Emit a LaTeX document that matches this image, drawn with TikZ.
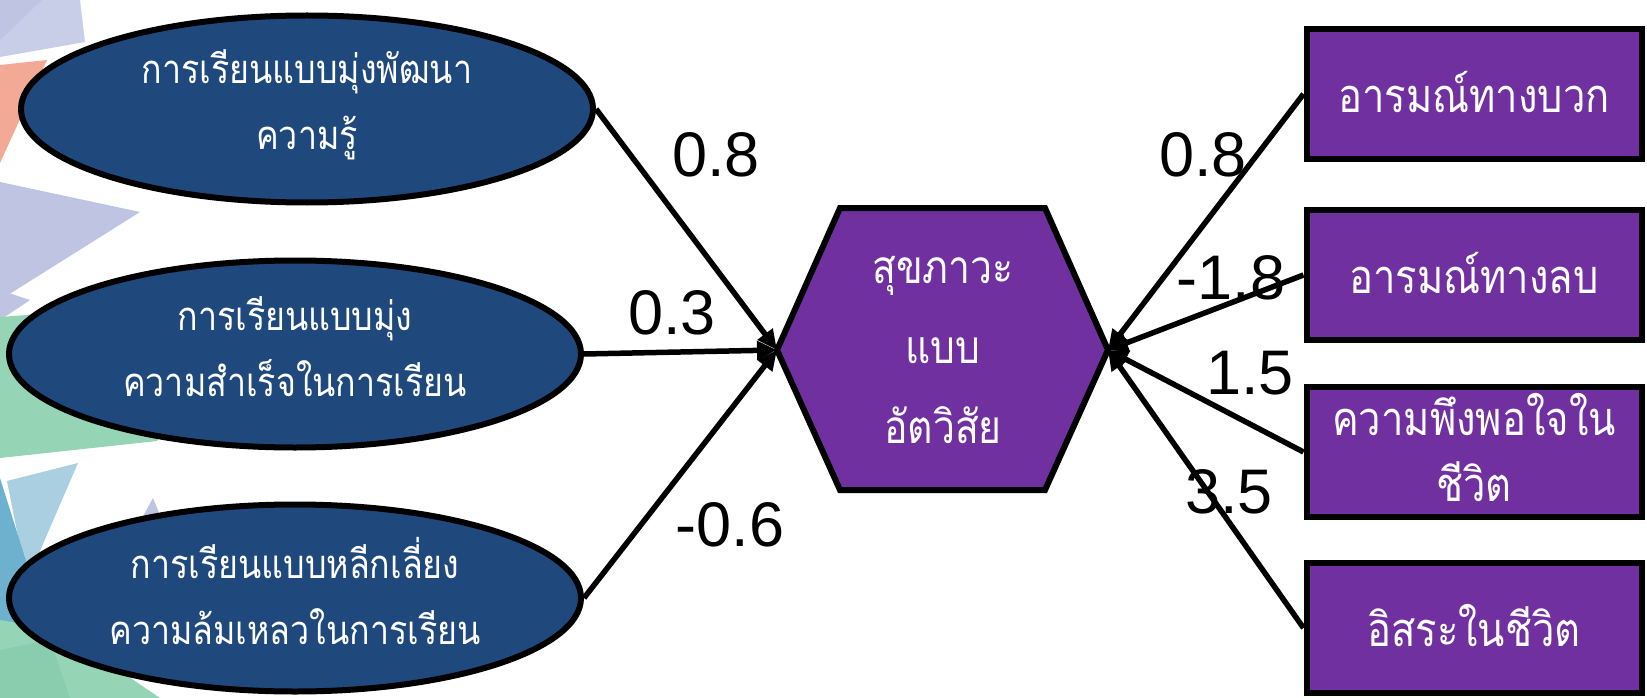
\documentclass[tikz,border=0pt]{standalone}
\usepackage{fontspec}
\newfontfamily\thaifont[Script=Thai,FakeStretch=0.85]{Loma}
\newfontfamily\numfont{Liberation Sans}
\usetikzlibrary{shapes.geometric,arrows.meta}
\definecolor{ovalblue}{HTML}{1F497D}
\definecolor{boxpurple}{HTML}{7030A0}
\definecolor{bglav}{HTML}{BEC4E2}
\definecolor{bglav2}{HTML}{C9CEE8}
\definecolor{bgsalmon}{HTML}{F2A995}
\definecolor{bggreen}{HTML}{95D5B5}
\definecolor{bggreen2}{HTML}{8ACDAE}
\definecolor{bgblue}{HTML}{A9CFE0}
\definecolor{bgblue2}{HTML}{6DB1CF}
\tikzset{
  latent/.style={ellipse, draw=black, line width=6pt, fill=ovalblue,
    minimum width=572pt, minimum height=187pt, inner sep=0pt},
  ovaltext/.style={text=white, align=center, inner sep=0pt,
    font=\thaifont\fontsize{40}{66}\selectfont},
  hexedge/.style={draw=black, line width=6pt, fill=boxpurple, line join=miter},
  hextext/.style={text=white, align=center, inner sep=0pt,
    font=\thaifont\fontsize{46}{80}\selectfont},
  indicator/.style={rectangle, draw=black, line width=6pt, fill=boxpurple,
    minimum width=335pt, minimum height=130pt, inner sep=0pt},
  boxtext/.style={text=white, align=center, inner sep=0pt,
    font=\thaifont\fontsize{47}{66}\selectfont},
  conn/.style={line width=5.5pt, draw=black, -{Triangle[length=20pt,width=18pt]}},
  coef/.style={font=\numfont\fontsize{63}{70}\selectfont, text=black, inner sep=0pt}
}
\begin{document}
\begin{tikzpicture}[x=1pt,y=-1pt]
\useasboundingbox (0,0) rectangle (1647,698);
\fill[white] (0,0) rectangle (1647,698);

% faded background triangles along the left edge
\fill[bglav2] (0,0) -- (80,0) -- (85,42) -- (0,57) -- cycle;
\fill[bglav] (0,0) -- (42,0) -- (0,40) -- cycle;
\fill[bgsalmon] (0,65) -- (47,60) -- (0,163) -- cycle;
\fill[bglav] (0,182) -- (140,212) -- (0,300) -- cycle;
\fill[bglav] (0,290) -- (30,300) -- (0,320) -- cycle;
\fill[bggreen] (0,317) -- (230,300) -- (157,441) -- (0,458) -- cycle;
\fill[bgblue] (7,481) -- (78,463) -- (27,581) -- cycle;
\fill[bgblue2] (0,478) -- (32,580) -- (12,630) -- (0,630) -- cycle;
\fill[bglav] (153,498) -- (170,540) -- (130,540) -- cycle;
\fill[bggreen] (0,620) -- (60,630) -- (160,698) -- (0,698) -- cycle;
\fill[bggreen2] (0,650) -- (50,640) -- (70,698) -- (0,698) -- cycle;

% exogenous latent variables
\node[latent] (e1) at (307,109) {};
\node[latent] (e2) at (295,354) {};
\node[latent] (e3) at (295,598) {};
\node[ovaltext] (t1) at (307,105) {การเรียนแบบมุ่งพัฒนา\\ความรู้};
\node[ovaltext] (t2) at (295,347) {การเรียนแบบมุ่ง\\ความสำเร็จในการเรียน};
\node[ovaltext] (t3) at (295,591) {การเรียนแบบหลีกเลี่ยง\\ความล้มเหลวในการเรียน};

% endogenous construct (hexagon)
\coordinate (hexW) at (777,350);
\coordinate (hexE) at (1108,350);
\filldraw[hexedge] (hexW) -- (840,208) -- (1045,208) -- (hexE)
  -- (1045,490) -- (840,490) -- cycle;
\node[hextext] (hex) at (943,350) {สุขภาวะ\\แบบ\\อัตวิสัย};

% indicators
\node[indicator] (r1) at (1474,94) {};
\node[indicator] (r2) at (1474,275) {};
\node[indicator] (r3) at (1474,452) {};
\node[indicator] (r4) at (1474,628) {};
\node[boxtext] (b1) at (1474,92) {อารมณ์ทางบวก};
\node[boxtext] (b2) at (1474,273) {อารมณ์ทางลบ};
\node[boxtext] (b3) at (1474,448) {ความพึงพอใจใน\\ชีวิต};
\node[boxtext] (b4) at (1474,626) {อิสระในชีวิต};

% paths
\draw[conn] (e1.east) -- (hexW);
\draw[conn] (e2.east) -- (hexW);
\draw[conn] (e3.east) -- (hexW);
\draw[conn] (r1.west) -- (hexE);
\draw[conn] (r2.west) -- (hexE);
\draw[conn] (r3.west) -- (hexE);
\draw[conn] (r4.west) -- (hexE);

% path coefficients
\node[coef] (c1) at (716,155) {0.8};
\node[coef] (c2) at (672,313) {0.3};
\node[coef] (c3) at (730,525) {-0.6};
\node[coef] (c4) at (1203,155) {0.8};
\node[coef] (c5) at (1231,278) {-1.8};
\node[coef] (c6) at (1250,373) {1.5};
\node[coef] (c7) at (1229,492) {3.5};
\end{tikzpicture}
\end{document}
